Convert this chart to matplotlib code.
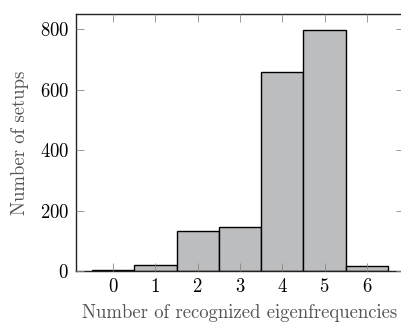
import matplotlib.pyplot as plt

# recognized eigenfrequencies per setup
counts = [0, 1, 2, 3, 4, 5, 6]
setups = [3, 21, 132, 145, 658, 798, 17]

plt.rcParams["font.family"] = "serif"
plt.rcParams["font.serif"] = ["cmr10"]
plt.rcParams["axes.formatter.use_mathtext"] = True

fig = plt.figure(figsize=(4.02, 3.24), dpi=100)
ax = fig.add_axes([0.189, 0.1636, 0.816, 0.793])

ax.bar(counts, setups, width=1.0, color="#bcbdbf", edgecolor="black", linewidth=1.0)

ax.set_xlim(-0.875, 6.875)
ax.set_ylim(0, 850)
ax.set_xticks(counts)
ax.set_yticks([0, 200, 400, 600, 800])
ax.tick_params(direction="in", top=True, right=True, labelsize=13.5, length=5.5,
               width=0.6, color="#888888", pad=5)
ax.set_axisbelow(False)
for s in ax.spines.values():
    s.set_color("#222222")
    s.set_linewidth(1.0)

ax.set_xlabel("Number of recognized eigenfrequencies", fontsize=13.5,
              color="#555555", labelpad=6)
ax.set_ylabel("Number of setups", fontsize=13.5, color="#555555", labelpad=8)

fig.savefig("out.png", dpi=100)
